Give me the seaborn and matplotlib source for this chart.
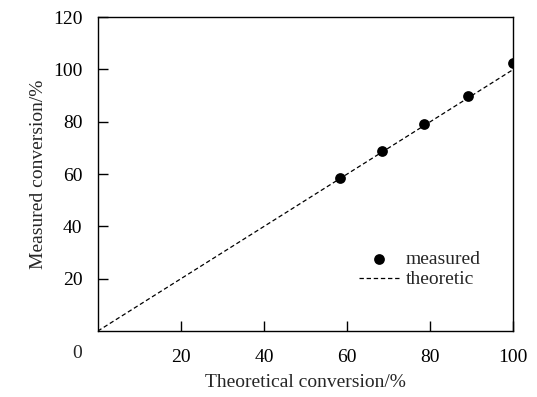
import matplotlib.pyplot as plt
import matplotlib
import seaborn as sns

sns.set_style("ticks")
matplotlib.rc('font', family=['Liberation Serif', 'DejaVu Serif'], size=14)

theory_x = [0, 100]
theory_y = [0, 100]
meas_x = [58.3, 68.4, 78.5, 89.1, 99.9]
meas_y = [58.5, 68.8, 79.1, 89.8, 102.4]

fig = plt.figure(figsize=(5.37, 3.97), dpi=100)
ax = fig.add_axes([0.182, 0.166, 0.774, 0.791])

sns.lineplot(x=theory_x, y=theory_y, ax=ax, color='black', linewidth=0.9,
             linestyle=(0, (3.5, 2.2)), label='theoretic')
sns.scatterplot(x=meas_x, y=meas_y, ax=ax, color='black', s=60,
                edgecolor='black', linewidth=0, label='measured', zorder=3)

ax.set_xlim(0, 100)
ax.set_ylim(0, 120)
ax.set_xticks([20, 40, 60, 80, 100])
ax.set_yticks([20, 40, 60, 80, 100, 120])
ax.tick_params(direction='in', length=7, width=1, colors='black', pad=11,
               labelsize=14)
ax.tick_params(axis='x', pad=13)
for sp in ax.spines.values():
    sp.set_linewidth(1)
    sp.set_color('black')
ax.text(-0.05, -0.072, '0', transform=ax.transAxes, ha='center', va='center',
        fontsize=14)

ax.set_xlabel('Theoretical conversion/%', fontsize=14, labelpad=6)
ax.set_ylabel('Measured conversion/%', fontsize=14, labelpad=4)

h, l = ax.get_legend_handles_labels()
ax.legend(h[::-1], l[::-1], frameon=False, loc='lower right',
          bbox_to_anchor=(0.963, 0.08), handlelength=2.1, handletextpad=0.3,
          labelspacing=0.15, fontsize=14)

fig.savefig('out.png', dpi=100)
